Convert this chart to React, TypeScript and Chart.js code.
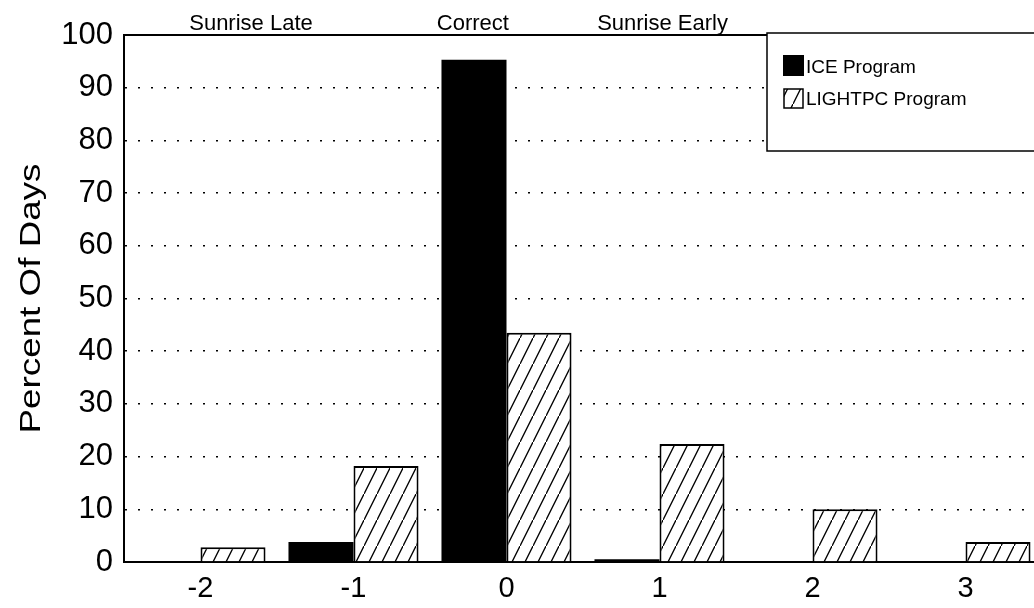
import React, { useEffect, useRef } from "react";
import { Chart, registerables } from "chart.js";

Chart.register(...registerables);

const categories = ["-2", "-1", "0", "1", "2", "3"];
const iceValues = [0, 3.8, 95.3, 0.5, 0, 0];
const lightpcValues = [2.8, 18.2, 43.5, 22.4, 10.0, 3.8];
const seriesNames = ["ICE Program", "LIGHTPC Program"];
const regionLabels = ["Sunrise Late", "Correct", "Sunrise Early"];
const yTitle = "Percent Of Days";
const FONT = "'Liberation Sans', Arial, Helvetica, sans-serif";

function makeHatch(ctx: CanvasRenderingContext2D): CanvasPattern | string {
  const c = document.createElement("canvas");
  const w = 13, h = 26;
  c.width = w; c.height = h;
  const g = c.getContext("2d");
  if (!g) return "#fff";
  g.fillStyle = "#fff";
  g.fillRect(0, 0, w, h);
  g.strokeStyle = "#000";
  g.lineWidth = 1.3;
  g.beginPath();
  g.moveTo(-w, 2 * h); g.lineTo(2 * w, -h);
  g.stroke();
  return ctx.createPattern(c, "repeat") || "#fff";
}

export default function App() {
  const ref = useRef<HTMLCanvasElement | null>(null);
  useEffect(() => {
    document.body.style.margin = "0";
    document.body.style.overflow = "hidden";
    const canvas = ref.current;
    if (!canvas) return;
    const ctx = canvas.getContext("2d");
    if (!ctx) return;
    const hatch = makeHatch(ctx);

    const decor = {
      id: "decor",
      afterDatasetsDraw(chart: any) {
        const c = chart.ctx as CanvasRenderingContext2D;
        const a = chart.chartArea;
        const xs = chart.scales.x;
        const cw = (a.right - a.left) / categories.length;
        c.save();
        // top frame line
        c.strokeStyle = "#000";
        c.lineWidth = 2;
        c.beginPath();
        c.moveTo(a.left, a.top);
        c.lineTo(a.right, a.top);
        c.stroke();
        // region labels
        c.fillStyle = "#000";
        c.font = `22px ${FONT}`;
        c.textAlign = "center";
        c.textBaseline = "alphabetic";
        const offs = [0.33, -0.22, 1.02];
        const idx = [0, 2, 2];
        regionLabels.forEach((t, i) => {
          const x = xs.getPixelForValue(idx[i]) + offs[i] * cw;
          c.fillText(t, x, a.top - 5);
        });
        // y title (stretched)
        c.save();
        c.translate(40, (a.top + a.bottom) / 2);
        c.rotate(-Math.PI / 2);
        c.font = `30px ${FONT}`;
        const tw = c.measureText(yTitle).width;
        c.scale(270 / tw, 1);
        c.textAlign = "center";
        c.fillText(yTitle, 0, 0);
        c.restore();
        // legend box
        const lx = 767, ly = a.top - 2;
        c.fillStyle = "#fff";
        c.fillRect(lx, ly, a.right - lx + 10, 118);
        c.strokeStyle = "#000";
        c.lineWidth = 1.5;
        c.strokeRect(lx, ly, a.right - lx + 10, 118);
        // entry 1
        c.fillStyle = "#000";
        c.fillRect(783, ly + 22, 21, 21);
        c.font = `19px ${FONT}`;
        c.textAlign = "left";
        c.textBaseline = "middle";
        c.fillText(seriesNames[0], 806, ly + 35);
        // entry 2
        c.fillStyle = hatch as any;
        c.fillRect(784, ly + 56, 19, 19);
        c.strokeStyle = "#000";
        c.lineWidth = 1.5;
        c.strokeRect(784, ly + 56, 19, 19);
        c.fillStyle = "#000";
        c.fillText(seriesNames[1], 806, ly + 67);
        c.restore();
      },
    };

    const chart = new Chart(ctx, {
      type: "bar",
      data: {
        labels: categories,
        datasets: [
          {
            label: seriesNames[0],
            data: iceValues,
            backgroundColor: "#000",
            borderColor: "#000",
            borderWidth: 0,
            categoryPercentage: 0.85,
            barPercentage: 1,
          },
          {
            label: seriesNames[1],
            data: lightpcValues,
            backgroundColor: hatch as any,
            borderColor: "#000",
            borderWidth: 2,
            categoryPercentage: 0.85,
            barPercentage: 1,
          },
        ],
      },
      options: {
        animation: false,
        responsive: false,
        maintainAspectRatio: false,
        layout: { padding: { top: 35, left: 0, right: 0, bottom: 0 } },
        plugins: { legend: { display: false }, tooltip: { enabled: false }, title: { display: false } },
        scales: {
          x: {
            grid: { display: false, drawTicks: false },
            border: { display: true, color: "#000", width: 2 },
            ticks: { color: "#000", font: { family: FONT, size: 29 }, padding: 10 },
            afterFit: (s: any) => { s.height = 46; },
          },
          y: {
            min: 0,
            max: 100,
            ticks: { stepSize: 10, color: "#000", font: { family: FONT, size: 31 }, padding: 11 },
            grid: {
              drawTicks: false,
              color: (c: any) => (c.tick && (c.tick.value === 0 || c.tick.value === 100) ? "rgba(0,0,0,0)" : "#000"),
              lineWidth: 1.5,
            },
            border: { display: true, color: "#000", width: 2, dash: [2, 11] },
            afterFit: (s: any) => { s.width = 124; },
          },
        },
      },
      plugins: [decor],
    });
    return () => chart.destroy();
  }, []);
  return (
    <div style={{ width: 1042, height: 608, position: "relative", background: "#fff" }}>
      <canvas ref={ref} width={1042} height={608} style={{ display: "block" }} />
    </div>
  );
}
